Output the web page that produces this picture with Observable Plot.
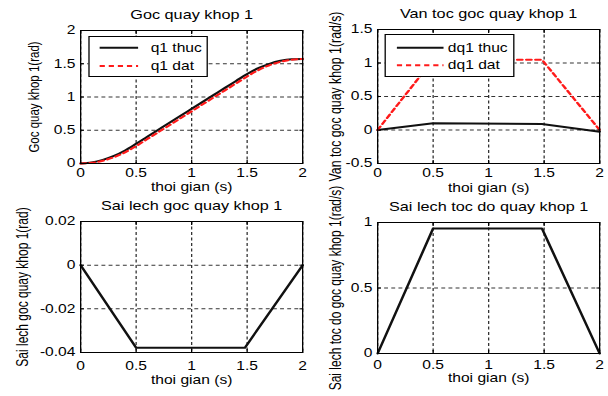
<!DOCTYPE html>
<html><head><meta charset="utf-8">
<script src="https://cdn.jsdelivr.net/npm/d3@7"></script>
<script src="https://cdn.jsdelivr.net/npm/@observablehq/plot@0.6"></script>
<style>
html,body{margin:0;padding:0;background:#fff;overflow:hidden;}
#fig{position:relative;width:468px;height:396px;transform:scaleX(1.299145);transform-origin:0 0;font-family:"Liberation Sans",Arial,Helvetica,sans-serif;}
#fig > svg{position:absolute;left:0;top:0;}
.legend{position:absolute;background:#fff;border:1px solid #000;box-sizing:border-box;}
.legend svg{position:absolute;left:0;top:0;overflow:visible;}
</style></head><body><div id="fig"></div>
<script>
// ---------- data ----------
const t = [0,0.1,0.2,0.3,0.4,0.5,0.6,0.7,0.8,0.9,1.0,1.1,1.2,1.3,1.4,1.5,1.6,1.7,1.8,1.9,2.0];
const q1Thuc = [0,0.016,0.055,0.114,0.196,0.297,0.403,0.508,0.613,0.717,0.822,0.927,1.032,1.137,1.241,1.345,1.433,1.499,1.544,1.567,1.571];
const q1Dat  = [0,0.010,0.042,0.094,0.168,0.262,0.367,0.471,0.576,0.681,0.785,0.890,0.995,1.100,1.204,1.309,1.403,1.477,1.529,1.560,1.571];

const tVel = [0, 0.5, 1.48, 2];
const dq1Thuc = [0, 0.10, 0.09, -0.025];
const dq1Dat  = [0, 1.05, 1.05, 0];

const tErr = [0, 0.5, 1.48, 2];
const errQ1  = [0, -0.0378, -0.0378, 0];
const errDq1 = [0, 0.955, 0.955, 0];

const xTicks = [0, 0.5, 1, 1.5, 2];
const xTickLabels = ["0", "0.5", "1", "1.5", "2"];
const yTicksTL = [0, 0.5, 1, 1.5, 2];
const yLabelsTL = ["0", "0.5", "1", "1.5", "2"];
const yTicksTR = [-0.5, 0, 0.5, 1, 1.5];
const yLabelsTR = ["-0.5", "0", "0.5", "1", "1.5"];
const yTicksBL = [-0.04, -0.02, 0, 0.02];
const yLabelsBL = ["-0.04", "-0.02", "0", "0.02"];
const yTicksBR = [0, 0.5, 1];
const yLabelsBR = ["0", "0.5", "1"];

const titles = ["Goc quay khop 1", "Van toc goc quay khop 1", "Sai lech goc quay khop 1", "Sai lech toc do quay khop 1"];
const yAxisLabels = ["Goc quay khop 1(rad)", "Van toc goc quay khop 1(rad/s)", "Sai lech goc quay khop 1(rad)", "Sai lech toc do goc quay khop 1(rad/s)"];
const xAxisLabel = "thoi gian (s)";
const legendTL = ["q1 thuc", "q1 dat"];
const legendTR = ["dq1 thuc", "dq1 dat"];

// ---------- drawing ----------
const FONT = '"Liberation Sans", Arial, Helvetica, sans-serif';
const W = 468, H = 396;
const RED = "#ff1a1a", BLACK = "#111";
const fig = document.getElementById("fig");

const rowsOf = (xs, ys) => xs.map((x, i) => ({x, y: ys[i]}));
const gridStyle = {stroke: "#000", strokeOpacity: 0.8, strokeWidth: 1, strokeDasharray: "3,2.5"};

function panel(o) {
  const yfmt = d => o.yLabels[o.yTicks.indexOf(d)];
  const xfmt = d => xTickLabels[xTicks.indexOf(d)];
  const svg = Plot.plot({
    width: W, height: H,
    marginLeft: o.left, marginRight: W - o.right, marginTop: o.top, marginBottom: H - o.bottom,
    style: {background: "none", overflow: "visible", fontFamily: FONT, fontSize: "12px", color: "#000"},
    x: {domain: [0, 2], label: null},
    y: {domain: o.yDomain, label: null},
    marks: [
      Plot.gridX(xTicks, gridStyle),
      Plot.gridY(o.yTicks, gridStyle),
      ...o.marks,
      Plot.frame({stroke: "#000", strokeWidth: 1}),
      Plot.axisX(xTicks, {anchor: "bottom", tickSize: -3, tickPadding: o.xPad + 3, tickFormat: xfmt, label: null, fontSize: 12}),
      Plot.axisX(xTicks, {anchor: "top", tickSize: -3, tickFormat: () => "", label: null}),
      Plot.axisY(o.yTicks, {anchor: "left", tickSize: -3, tickPadding: 4 + 3, tickFormat: yfmt, label: null, fontSize: 12}),
      Plot.axisY(o.yTicks, {anchor: "right", tickSize: -3, tickFormat: () => "", label: null}),
      Plot.text([o.title], {text: d => d, frameAnchor: "top", textAnchor: "middle", lineAnchor: "middle", dy: -15.5, fontSize: 12.5}),
      Plot.text([xAxisLabel], {text: d => d, frameAnchor: "bottom", textAnchor: "middle", lineAnchor: "middle", dy: o.xlabDy, fontSize: 12}),
      Plot.text([o.ylabel], {text: d => d, frameAnchor: "left", textAnchor: "middle", lineAnchor: "middle", rotate: -90, dx: o.ylabDx, fontSize: o.ylabSize})
    ]
  });
  fig.appendChild(svg);
}

function legend(o) {
  const div = document.createElement("div");
  div.className = "legend";
  Object.assign(div.style, {left: o.left + "px", top: o.top + "px", width: o.width + "px", height: o.height + "px"});
  const svg = d3.create("svg").attr("width", o.width).attr("height", o.height);
  o.items.forEach((it, i) => {
    const y = o.rows[i];
    svg.append("line").attr("x1", o.x1).attr("x2", o.x2).attr("y1", y).attr("y2", y)
      .attr("stroke", it.color).attr("stroke-width", 2).attr("stroke-dasharray", it.dash || null);
    svg.append("text").attr("x", o.tx).attr("y", y).attr("dy", "0.35em")
      .attr("font-family", FONT).attr("font-size", 12).attr("fill", "#000").text(it.label);
  });
  div.appendChild(svg.node());
  fig.appendChild(div);
}

const LX0 = 61.58, LX1 = 232.46, RX0 = 290.19, RX1 = 461.07;

panel({
  left: LX0, right: LX1, top: 30, bottom: 163,
  yDomain: [0, 2], yTicks: yTicksTL, yLabels: yLabelsTL,
  title: titles[0], ylabel: yAxisLabels[0], ylabDx: -35.4, ylabSize: 11.5,
  xPad: 5, xlabDy: 24,
  marks: [
    Plot.line(rowsOf(t, q1Thuc), {x: "x", y: "y", stroke: BLACK, strokeWidth: 2, curve: "monotone-x"}),
    Plot.line(rowsOf(t, q1Dat), {x: "x", y: "y", stroke: RED, strokeWidth: 2, strokeDasharray: "4,3", curve: "monotone-x"})
  ]
});

panel({
  left: RX0, right: RX1, top: 29, bottom: 163,
  yDomain: [-0.5, 1.5], yTicks: yTicksTR, yLabels: yLabelsTR,
  title: titles[1], ylabel: yAxisLabels[1], ylabDx: -31.95, ylabSize: 12.3,
  xPad: 5, xlabDy: 24.5,
  marks: [
    Plot.line(rowsOf(tVel, dq1Thuc), {x: "x", y: "y", stroke: BLACK, strokeWidth: 2}),
    Plot.line(rowsOf(tVel, dq1Dat), {x: "x", y: "y", stroke: RED, strokeWidth: 2, strokeDasharray: "4,3"})
  ]
});

panel({
  left: LX0, right: LX1, top: 221, bottom: 352,
  yDomain: [-0.04, 0.02], yTicks: yTicksBL, yLabels: yLabelsBL,
  title: titles[2], ylabel: yAxisLabels[2], ylabDx: -44.65, ylabSize: 12,
  xPad: 9, xlabDy: 27.5,
  marks: [
    Plot.line(rowsOf(tErr, errQ1), {x: "x", y: "y", stroke: BLACK, strokeWidth: 2})
  ]
});

panel({
  left: RX0, right: RX1, top: 222, bottom: 353,
  yDomain: [0, 1], yTicks: yTicksBR, yLabels: yLabelsBR,
  title: titles[3], ylabel: yAxisLabels[3], ylabDx: -31.95, ylabSize: 12,
  xPad: 7, xlabDy: 25,
  marks: [
    Plot.line(rowsOf(tErr, errDq1), {x: "x", y: "y", stroke: BLACK, strokeWidth: 2})
  ]
});

legend({
  left: 67.97, top: 36, width: 92.4, height: 41,
  rows: [10.7, 29], x1: 7.7, x2: 37.3, tx: 47,
  items: [{label: legendTL[0], color: BLACK}, {label: legendTL[1], color: RED, dash: "4,3"}]
});
legend({
  left: 295.58, top: 34, width: 100.8, height: 42.7,
  rows: [12.7, 30.3], x1: 8.5, x2: 44.4, tx: 47.7,
  items: [{label: legendTR[0], color: BLACK}, {label: legendTR[1], color: RED, dash: "4,3"}]
});
</script></body></html>
